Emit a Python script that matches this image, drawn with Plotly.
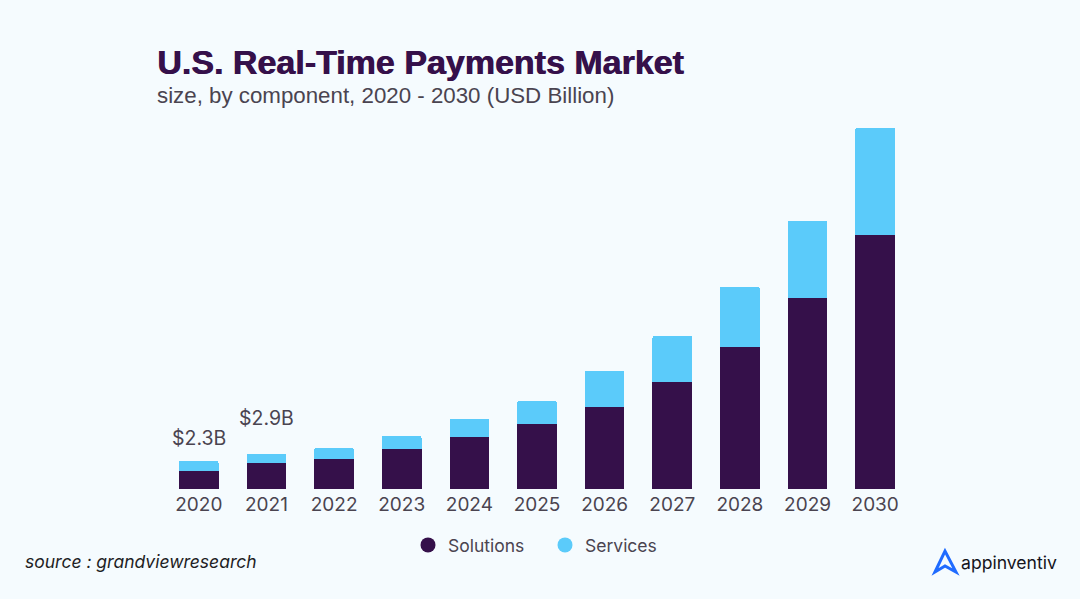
"""Stacked bars of the U.S. real-time payments market by component, 2020-2030."""
import plotly.graph_objects as go

WIDTH = 1080
HEIGHT = 599
LEFT, RIGHT, TOP, BOTTOM = 165, 171, 100, 110
DARK = "#35104A"
LIGHT = "#5BCBFA"
BG = "#F5FBFE"
GREY = "#4A4450"
LABEL_SHIFTS = [23, 36]

years = ["2020", "2021", "2022", "2023", "2024", "2025", "2026", "2027", "2028", "2029", "2030"]
solutions = [1.5, 2.17, 2.5, 3.32, 4.3, 5.37, 6.76, 8.81, 11.68, 15.7, 20.87]
services = [0.8, 0.73, 0.88, 1.05, 1.46, 1.87, 2.93, 3.75, 4.92, 6.31, 8.77]
label_years = ["2020", "2021"]
label_texts = ["$2.3B", "$2.9B"]
label_totals = [2.3, 2.9]


# paper coordinates are relative to the plot area, these take page pixels
def px(x):
    return (x - LEFT) / (WIDTH - LEFT - RIGHT)


def py(y):
    return 1 - (y - TOP) / (HEIGHT - TOP - BOTTOM)


def logo_path():
    pts = [(935, 572), (945, 551), (956, 572), (945, 566)]
    cmds = [f"{'M' if i == 0 else 'L'} {px(x):.5f} {py(y):.5f}" for i, (x, y) in enumerate(pts)]
    return " ".join(cmds) + " Z"


def page_text(fig, x, y, text, font):
    # annotations carry 2px of padding, hence x - 2
    fig.add_annotation(x=px(x - 2), y=py(y), xref="paper", yref="paper", xanchor="left", yanchor="middle",
                       text=text, showarrow=False, font=font)


fig = go.Figure()
fig.add_trace(go.Bar(name="Solutions", x=years, y=solutions, marker_color=DARK,
                     marker_line_width=0, showlegend=False))
fig.add_trace(go.Bar(name="Services", x=years, y=services, marker_color=LIGHT,
                     marker_line_width=0, showlegend=False))
# circles in the legend, the bars would only give squares
fig.add_trace(go.Scatter(name="Solutions", x=years[:1], y=[None], mode="markers",
                         marker=dict(color=DARK, size=15)))
fig.add_trace(go.Scatter(name="Services", x=years[:1], y=[None], mode="markers",
                         marker=dict(color=LIGHT, size=15)))

# numeric looking strings are not matched as categories here, so use the index
for year, text, total, shift in zip(label_years, label_texts, label_totals, LABEL_SHIFTS):
    fig.add_annotation(x=years.index(year), y=total, xref="x", yref="y", text=text, showarrow=False,
                       yshift=shift, font=dict(family="Inter, Liberation Sans", size=19.5, color=GREY))

page_text(fig, 157, 62, "<b>U.S. Real-Time Payments Market</b>",
          dict(family="Liberation Sans", size=34, color=DARK, shadow=f"0.8px 0 0 {DARK}"))
page_text(fig, 157, 96, "size, by component, 2020 - 2030 (USD Billion)",
          dict(family="Liberation Sans", size=22.3, color=GREY))
page_text(fig, 25, 561, "<i>source : grandviewresearch</i>",
          dict(family="Inter", size=17.5, color="#1E1E24"))
page_text(fig, 961, 562, "appinventiv",
          dict(family="Inter", size=17.6, color="#14141C"))

fig.add_shape(type="path", path=logo_path(), xref="paper", yref="paper",
              line=dict(color="#1F6BFF", width=3), fillcolor="rgba(0,0,0,0)")

fig.update_layout(
    width=WIDTH,
    height=HEIGHT,
    barmode="stack",
    bargap=0.415,
    barcornerradius=2,
    paper_bgcolor=BG,
    plot_bgcolor=BG,
    margin=dict(l=LEFT, r=RIGHT, t=TOP, b=BOTTOM, autoexpand=False),
    showlegend=True,
    legend=dict(orientation="h", traceorder="normal", x=px(408), xref="paper", xanchor="left",
                y=1 - 545 / HEIGHT, yref="container", yanchor="middle",
                font=dict(family="Inter, Liberation Sans", size=17.5, color=GREY),
                bgcolor="rgba(0,0,0,0)", itemwidth=30, entrywidth=92, entrywidthmode="pixels"),
    xaxis=dict(type="category", categoryorder="array", categoryarray=years, range=[-0.5, 10.5],
               showgrid=False, zeroline=False, showline=False, ticks="", ticklabelstandoff=2,
               tickfont=dict(family="Inter, Liberation Sans", size=19, color=GREY)),
    yaxis=dict(range=[0, 31.9], visible=False),
)

fig.write_html("out.html", post_script="document.body.style.margin = '0';",
               config={"displayModeBar": False})
